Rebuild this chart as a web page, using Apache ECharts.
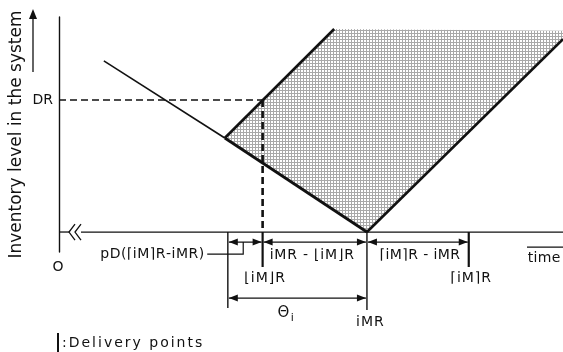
<!DOCTYPE html>
<html>
<head>
<meta charset="utf-8">
<script src="https://cdn.jsdelivr.net/npm/echarts@6/dist/echarts.min.js"></script>
<style>html,body{margin:0;padding:0;background:#fff}#c{width:563px;height:352px}</style>
</head>
<body>
<div id="c"></div>
<script>
// ---- data (time on x, inventory level on y; arbitrary schematic units) ----
const levelDR = 64.7;
const levelBase = 8.5;
const deliveryTimes = [40.4, 81.3];
const deliveryLabels = ['⌊iM⌋R', '⌈iM⌉R'];
const thetaStart = 33.5;
const timeIMR = 61.1;
const declineThin = [[8.9, 81.3], [32.9, 48.5]];
const declineBold = [[32.9, 48.5], [61.1, 8.5]];
const riseLeft = [[32.9, 48.5], [54.6, 94.9]];
const riseRight = [[61.1, 8.5], [100, 90.6]];
const shadeTop = [[54.6, 94.9], [100, 94.2]];
const dimStarts = [33.5, 40.4, 61.1, 33.5];
const dimEnds = [40.4, 61.1, 81.3, 61.1];
const dimRows = [0, 0, 0, 1];
const dimLabels = ['pD(⌈iM⌉R-iMR)', 'iMR - ⌊iM⌋R', '⌈iM⌉R - iMR', 'Θ'];
const yTitle = 'Inventory level in the system';
const xTitle = 'time';
const legendText = ':Delivery points';

const FONT = '"DejaVu Sans", sans-serif';
const INK = '#111';

// dotted shading pattern
const pat = document.createElement('canvas');
pat.width = 3; pat.height = 3;
const pc = pat.getContext('2d');
pc.fillStyle = '#fff'; pc.fillRect(0, 0, 3, 3);
pc.fillStyle = '#a8a8a8'; pc.fillRect(0, 0, 3, 1); pc.fillRect(0, 0, 1, 3);

// text measuring for letter-spaced labels
const mctx = document.createElement('canvas').getContext('2d');
function spacedText(str, x, y, size, spacing, align) {
  const font = size + 'px ' + FONT;
  mctx.font = font;
  const chars = Array.from(str);
  const ws = chars.map(c => mctx.measureText(c).width);
  const total = ws.reduce((a, b) => a + b, 0) + spacing * (chars.length - 1);
  let cx = align === 'center' ? x - total / 2 : (align === 'right' ? x - total : x);
  const children = [];
  chars.forEach((c, k) => {
    children.push({ type: 'text', x: cx, y: y, style: { text: c, font: font, fill: INK, align: 'left', verticalAlign: 'middle' } });
    cx += ws[k] + spacing;
  });
  return { type: 'group', children: children };
}

const shadePoly = [riseLeft[0], riseLeft[1], shadeTop[1], riseRight[1], riseRight[0]];

function lineSeries(data, width, dashed) {
  return {
    type: 'line', data: data, symbol: 'none', clip: false, silent: true, z: 3,
    lineStyle: { color: INK, width: width, type: dashed ? [7, 4] : 'solid', cap: 'butt' }
  };
}

function arrowHead(x, y, dir) {
  const L = 9, W = 3.5;
  return { type: 'polygon', shape: { points: [[x, y], [x - dir * L, y - W], [x - dir * L, y + W]] },
           style: { fill: INK } };
}

const chart = echarts.init(document.getElementById('c'), null, { renderer: 'canvas' });
chart.setOption({
  animation: false,
  backgroundColor: '#fff',
  grid: { left: 59, top: 17, right: 0, bottom: 100 },
  xAxis: { type: 'value', min: 0, max: 100, show: false },
  yAxis: {
    type: 'value', min: 0, max: 100,
    axisLine: { show: true, lineStyle: { color: INK, width: 1.4 } },
    axisTick: { show: false }, axisLabel: { show: false }, splitLine: { show: false },
    name: yTitle, nameLocation: 'middle', nameGap: 34, nameRotate: 90,
    nameTextStyle: { fontFamily: FONT, fontSize: 17, color: INK }
  },
  series: [
    { // shaded region
      type: 'custom', z: 1, silent: true, data: [[0, 0]],
      renderItem: function (params, api) {
        return { type: 'polygon', shape: { points: shadePoly.map(p => api.coord(p)) },
                 style: { fill: { image: pat, repeat: 'repeat' } } };
      }
    },
    lineSeries(declineThin, 1.6),
    lineSeries(declineBold, 2.8),
    lineSeries(riseLeft, 2.6),
    lineSeries(riseRight, 2.6),
    lineSeries([[0, levelDR], [deliveryTimes[0], levelDR]], 1.5, true),
    lineSeries([[deliveryTimes[0], levelDR], [deliveryTimes[0], levelBase]], 2.6, true),
    { // axis details
      type: 'custom', z: 4, silent: true, data: [[0, 0]],
      renderItem: function (params, api) {
        const o = api.coord([0, 0]);
        const top = api.coord([0, 100]);
        const b0 = api.coord([0, levelBase]);
        const b1 = api.coord([100, levelBase]);
        const dr = api.coord([0, levelDR]);
        const ch = [];
        const ls = { stroke: INK, lineWidth: 1.3 };
        ch.push({ type: 'line', shape: { x1: b0[0], y1: b0[1], x2: b0[0] + 10, y2: b0[1] }, style: ls });
        [10, 16].forEach(dx => {
          ch.push({ type: 'polyline', shape: { points: [[b0[0] + dx + 6, b0[1] - 8], [b0[0] + dx, b0[1]], [b0[0] + dx + 6, b0[1] + 8]] }, style: { stroke: INK, lineWidth: 1.3, fill: null } });
        });
        ch.push({ type: 'line', shape: { x1: b0[0] + 22, y1: b0[1], x2: b1[0], y2: b1[1] }, style: ls });
        ch.push(spacedText('DR', dr[0] - 6, dr[1], 14, 0, 'right'));
        ch.push(spacedText('O', o[0] - 1, o[1] + 15, 14, 0, 'center'));
        ch.push(spacedText(xTitle, b1[0] - 19, b1[1] + 26, 14, 0.3, 'center'));
        ch.push({ type: 'line', shape: { x1: b1[0] - 36, y1: b1[1] + 15, x2: b1[0], y2: b1[1] + 15 }, style: ls });
        // arrow beside the y title
        ch.push({ type: 'line', shape: { x1: top[0] - 26, y1: top[1] + 55, x2: top[0] - 26, y2: top[1] }, style: ls });
        ch.push({ type: 'polygon', shape: { points: [[top[0] - 26, top[1] - 8], [top[0] - 30, top[1] + 2], [top[0] - 22, top[1] + 2]] }, style: { fill: INK } });
        // legend
        ch.push({ type: 'line', shape: { x1: o[0] - 1, y1: o[1] + 81, x2: o[0] - 1, y2: o[1] + 100 }, style: { stroke: INK, lineWidth: 2 } });
        ch.push(spacedText(legendText, o[0] + 3, o[1] + 91, 14, 2, 'left'));
        return { type: 'group', children: ch };
      }
    },
    { // delivery points
      type: 'custom', z: 4, silent: true,
      data: deliveryTimes.map((t, i) => [t, levelBase, i]),
      renderItem: function (params, api) {
        const p = api.coord([api.value(0), api.value(1)]);
        const i = api.value(2);
        return { type: 'group', children: [
          { type: 'line', shape: { x1: p[0], y1: p[1], x2: p[0], y2: p[1] + 35 }, style: { stroke: INK, lineWidth: 2.2 } },
          spacedText(deliveryLabels[i], p[0] + 2, p[1] + 46, 14, 1, 'center')
        ] };
      }
    },
    { // extension lines
      type: 'custom', z: 4, silent: true,
      data: [[thetaStart, levelBase, 0], [timeIMR, levelBase, 1]],
      renderItem: function (params, api) {
        const p = api.coord([api.value(0), api.value(1)]);
        const i = api.value(2);
        const ch = [{ type: 'line', shape: { x1: p[0], y1: p[1], x2: p[0], y2: p[1] + (i ? 78 : 76) }, style: { stroke: INK, lineWidth: 1.4 } }];
        if (i) ch.push(spacedText('iMR', p[0] + 3, p[1] + 90, 14, 1, 'center'));
        return { type: 'group', children: ch };
      }
    },
    { // dimension arrows
      type: 'custom', z: 5, silent: true,
      data: dimStarts.map((s, i) => [s, levelBase, dimEnds[i], dimRows[i], i]),
      renderItem: function (params, api) {
        const a = api.coord([api.value(0), api.value(1)]);
        const b = api.coord([api.value(2), api.value(1)]);
        const i = api.value(4);
        const y = a[1] + (api.value(3) ? 66 : 10);
        const x1 = a[0] + 1, x2 = b[0] - 1;
        const ch = [
          { type: 'line', shape: { x1: x1, y1: y, x2: x2, y2: y }, style: { stroke: INK, lineWidth: 1.3 } },
          arrowHead(x1, y, -1), arrowHead(x2, y, 1)
        ];
        const mid = (x1 + x2) / 2;
        if (i === 0) {
          const lx = mid - 2;
          ch.push({ type: 'polyline', shape: { points: [[lx, y], [lx, y + 12], [lx - 36, y + 12]] }, style: { stroke: INK, lineWidth: 1.2, fill: null } });
          ch.push(spacedText(dimLabels[i], lx - 39, y + 12, 14, 0.5, 'right'));
        } else if (i === 3) {
          ch.push(spacedText(dimLabels[i], mid - 14, y + 15, 15, 0, 'center'));
          ch.push(spacedText('i', mid - 5, y + 20, 11, 0, 'center'));
        } else {
          ch.push(spacedText(dimLabels[i], mid + (i === 1 ? -3 : 2), y + 13, 14, i === 1 ? 0.8 : 0.4, 'center'));
        }
        return { type: 'group', children: ch };
      }
    }
  ]
});
</script>
</body>
</html>
